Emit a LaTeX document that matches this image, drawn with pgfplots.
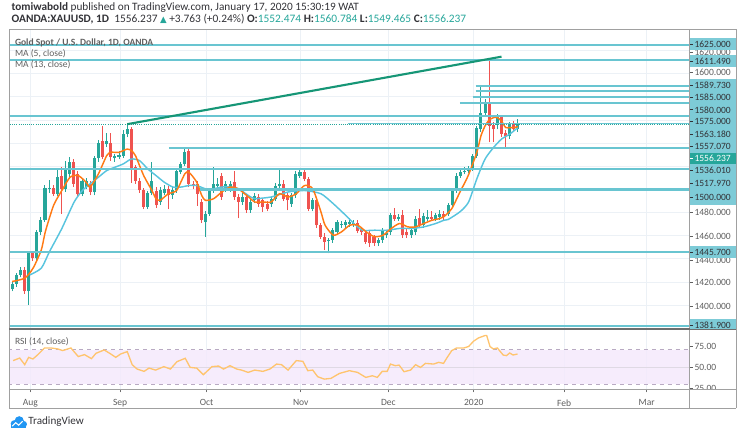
\documentclass[border=0pt]{standalone}
\usepackage{fontspec}
\setmainfont{Carlito}
\newfontfamily\dejavu{DejaVu Sans}
\usepackage{pgfplots}
\pgfplotsset{compat=1.18}
\usepackage{pgfplotstable}
\definecolor{up}{RGB}{38,166,154}
\definecolor{dn}{RGB}{239,83,80}
\definecolor{lvl}{RGB}{105,197,209}
\definecolor{lvlbox}{RGB}{125,203,215}
\definecolor{trend}{RGB}{22,150,118}
\definecolor{maf}{RGB}{255,122,20}
\definecolor{mas}{RGB}{88,196,222}
\definecolor{rsil}{RGB}{255,196,110}
\definecolor{rsif}{RGB}{244,233,252}
\definecolor{rsid}{RGB}{185,170,195}
\definecolor{gridc}{RGB}{236,241,246}
\definecolor{framec}{RGB}{160,160,160}
\definecolor{sepc}{RGB}{110,110,110}
\definecolor{txt}{RGB}{50,50,55}
\definecolor{ltxt}{RGB}{95,95,95}
\definecolor{tvblue}{RGB}{33,150,243}

\pgfplotstableread{
i O H L C
0 1414 1420 1412 1418.5
1 1418.5 1428 1416 1426.2
2 1426.2 1433 1424 1430.5
3 1430.5 1433 1410 1412.0
4 1412.0 1446 1400.5 1444.8
5 1444.8 1447 1438 1440.5
6 1440.5 1465 1439 1463.4
7 1463.4 1476 1461 1473.4
8 1473.4 1504 1472 1501.2
9 1500.0 1508 1497 1501.5
10 1501.2 1504 1494 1496.3
11 1496.3 1517 1494 1510.6
12 1511.5 1519 1479 1500.6
13 1500.6 1525 1498 1517.7
14 1513.5 1528 1511 1523.5
15 1523.5 1526 1502 1504.9
16 1513.5 1516 1494 1496.3
17 1496.3 1510 1494 1507.7
18 1502 1510 1500 1507.7
19 1504.9 1507 1495 1497.8
20 1497.8 1529 1495 1526.9
21 1526.9 1543 1524 1540
22 1542 1555 1526 1528
23 1539 1549 1537 1542
24 1540 1549 1525 1527.8
25 1527 1531 1524 1528.6
26 1528 1533 1526 1529.5
27 1529 1551 1527 1547.8
28 1547.8 1556.4 1545 1552.1
29 1552.1 1554 1506 1517.7
30 1519 1521 1505 1507.7
31 1507.7 1510 1497 1499.2
32 1499.2 1501 1483 1484.9
33 1484.9 1499 1483 1497.2
34 1497.2 1524 1495 1507
35 1499 1502 1484 1486.3
36 1489.2 1502 1487 1499.2
37 1497.2 1504 1495 1500.6
38 1500.6 1503 1483 1494.9
39 1494.9 1502 1492 1499.2
40 1499.2 1518 1497 1516.3
41 1515 1524 1513 1522
42 1522 1535.5 1520 1532
43 1533.5 1536 1502 1504.9
44 1504.9 1507 1500 1503.4
45 1504.9 1507 1486 1496.3
46 1489.2 1492 1471 1473.4
47 1472 1481 1459 1479.2
48 1479.2 1501 1477 1499.2
49 1499.2 1519 1497 1504.9
50 1503.4 1510 1501 1504.9
51 1512 1514 1491 1493.5
52 1500.6 1507 1498 1504.9
53 1500.6 1507 1498 1505
54 1506.3 1516 1491 1493.5
55 1493.5 1496 1475 1489.2
56 1489 1497 1487 1493.5
57 1493.5 1496 1480 1482
58 1482 1492 1480 1489.2
59 1490.6 1497 1488 1494.3
60 1493.5 1496 1485 1487.7
61 1490.6 1493 1480.6 1484.9
62 1487.7 1490 1481 1483.4
63 1487.7 1494 1485 1492
64 1492 1506 1490 1503.4
65 1503.4 1517.7 1501 1504.9
66 1504.9 1508 1490 1492
67 1494.9 1497 1482 1490.6
68 1487.7 1497 1485 1494.9
69 1494.9 1516 1493 1513.5
70 1512 1517 1510 1514.9
71 1514.9 1517 1507 1509.2
72 1509.2 1511 1481 1483.4
73 1483.4 1493 1481 1490.6
74 1490.6 1493 1467 1469.1
75 1469.1 1471 1457 1459.2
76 1459.2 1462 1447.7 1454.9
77 1455.4 1458 1444.8 1456.3
78 1456.3 1467 1454 1464.8
79 1463.4 1474 1461 1472
80 1469.1 1473 1467 1470.6
81 1469.1 1474 1467 1472
82 1470.6 1475.5 1468 1472
83 1469.7 1474 1468 1471.4
84 1471.4 1474 1462 1464.3
85 1464.8 1467 1461 1463.4
86 1462 1464 1453 1454.9
87 1462 1464 1450.6 1453.4
88 1459.2 1461 1451 1453.4
89 1453.4 1458 1451 1456.3
90 1456.3 1467 1454 1464.8
91 1460.5 1464 1458 1462
92 1463.4 1480 1461 1477.7
93 1477.7 1484 1473 1474.9
94 1474.9 1479 1473 1476.3
95 1477.7 1482 1458 1460.5
96 1463.4 1466 1458 1460.5
97 1460.5 1467 1458 1464.8
98 1463.4 1477 1461 1474.9
99 1475.5 1483 1467 1469.7
100 1469.1 1480 1467 1477.2
101 1474.9 1482 1473 1476.3
102 1476.3 1481 1473 1474.9
103 1474.9 1480 1473 1477.7
104 1476.3 1482 1474 1479.2
105 1479.2 1481 1474 1476.3
106 1479.2 1488 1477 1486.3
107 1486.3 1501 1484 1499.2
108 1499.2 1514 1497 1512
109 1512 1517 1510 1514.9
110 1514.9 1519 1513 1516.3
111 1516.3 1520 1514 1517.7
112 1517.7 1531 1516 1529.2
113 1529.2 1555 1527 1552.7
114 1552.1 1589.7 1550 1566.4
115 1566.4 1578 1564 1575
116 1575 1611.5 1540.7 1554.9
117 1555.5 1558 1540.7 1552.1
118 1555.5 1565 1552 1562.9
119 1562.9 1564 1545 1547.8
120 1548.6 1551 1536.4 1546.3
121 1546.3 1558 1544 1556.4
122 1556.4 1559 1550 1552.5
123 1552.474 1560.784 1549.465 1556.237
}\candles

\newcommand{\pfont}{\fontsize{7.2}{8}\selectfont}
\newcommand{\plab}[3]{\draw[#3, line width=0.5pt] (689.5,#1) -- (692.5,#1); \node[anchor=west, inner sep=0pt, font=\pfont, text=#3] at (694,#1) {#2};}

\begin{document}
\begin{tikzpicture}
\begin{scope}[x=0.75pt,y=-0.75pt]
\path[use as bounding box] (0,0) rectangle (740,437);
\end{scope}

% ---------------- main price panel ----------------
\begin{axis}[at={(3.225pt,-248.25pt)}, anchor=south west, scale only axis,
  width=513.5pt, height=225.75pt,
  xmin=-0.725, xmax=164.66, ymin=1379.6, ymax=1637.9,
  axis line style={draw=none},
  xtick={4.44,26.26,47.3,70.2,91.5,112.25,134.2,154.3}, xticklabels={},
  ytick={1400,1420,...,1620}, yticklabels={},
  major tick length=0pt, grid=major, major grid style={gridc, line width=0.7pt}]
% wicks
\addplot[draw=none, mark=none, forget plot,
  restrict expr to domain={\thisrow{C}-\thisrow{O}}{0:1000},
  error bars/.cd, y dir=plus, y explicit, error mark=none,
  error bar style={draw=up, line width=0.75pt}]
  table[x=i, y=L, y error expr=\thisrow{H}-\thisrow{L}] {\candles};
\addplot[draw=none, mark=none, forget plot,
  restrict expr to domain={\thisrow{O}-\thisrow{C}}{0.001:1000},
  error bars/.cd, y dir=plus, y explicit, error mark=none,
  error bar style={draw=dn, line width=0.75pt}]
  table[x=i, y=L, y error expr=\thisrow{H}-\thisrow{L}] {\candles};
% bodies
\addplot[draw=none, mark=none, forget plot,
  restrict expr to domain={\thisrow{C}-\thisrow{O}}{0:1000},
  error bars/.cd, y dir=plus, y explicit, error mark=none,
  error bar style={draw=up, line width=2.3pt}]
  table[x=i, y=O, y error expr={max(\thisrow{C}-\thisrow{O},0.9)}] {\candles};
\addplot[draw=none, mark=none, forget plot,
  restrict expr to domain={\thisrow{O}-\thisrow{C}}{0.001:1000},
  error bars/.cd, y dir=plus, y explicit, error mark=none,
  error bar style={draw=dn, line width=2.3pt}]
  table[x=i, y=C, y error expr={max(\thisrow{O}-\thisrow{C},0.9)}] {\candles};
% MA 13
\addplot[mas, line width=1.1pt, smooth, tension=0.4] coordinates {
(4.3,1426.2)(7.1,1432)(9.1,1446.3)(12.1,1466.3)(15.1,1489.2)(17.1,1499.1)(19,1504.9)(21,1510.6)(23,1516.3)(25,1519.2)(27,1522)(29,1526.3)(31,1524.9)(33,1517.7)(35,1512)(37,1506.3)(39.1,1502.1)(41.1,1502.1)(43,1503.4)(44.9,1503.4)(47,1500.6)(49,1500.6)(51,1502.1)(53,1502.1)(55,1500.6)(58,1493.5)(59,1492)(63,1493.5)(67.1,1497.8)(71.1,1499.1)(75.1,1496.3)(78.1,1487.7)(81.1,1477.7)(83.1,1470.6)(85.2,1464.8)(88.1,1464.8)(91.2,1464.8)(94.2,1466.3)(97.2,1466.3)(100.1,1467.7)(103,1470.6)(105,1473.4)(106,1474)(109,1481)(111,1489.2)(113,1509.2)(115,1526.3)(117.1,1536.4)(119,1543.5)(121,1547.8)(123,1553.5)};
% MA 5
\addplot[maf, line width=1.1pt, smooth, tension=0.4] coordinates {
(0,1420.5)(3.1,1423.4)(5.1,1432)(7.1,1447.7)(8.1,1463.7)(10.1,1486.3)(12.1,1499.1)(14.1,1510.6)(16.1,1512)(18,1506.3)(19,1502.1)(21,1513.5)(23,1529.2)(24,1532.1)(26,1532.1)(28,1534.9)(29,1533.5)(30,1529.2)(32,1512)(34,1499.1)(35,1492)(36,1490.6)(38,1496.3)(40,1499.1)(42,1513.5)(43,1514.9)(44.9,1506.3)(46.1,1494.9)(47,1490.6)(49,1492)(51,1497.8)(53,1502.1)(55,1500.6)(57,1494.9)(58,1492)(59,1489.2)(61,1489.2)(63,1489.2)(65,1496.3)(67.1,1493.5)(69.1,1496.3)(71.1,1503.4)(73.1,1500.6)(75.1,1480.6)(76.1,1469.1)(78.1,1460.5)(80.1,1463.4)(82.1,1469.1)(84.1,1469.1)(86.1,1463.4)(88.1,1459.2)(90.2,1460.5)(92.2,1466.3)(94.2,1470.6)(96.2,1467.7)(98.1,1467.7)(100.1,1470.6)(102.1,1473.4)(104,1474.9)(105,1476.5)(106.9,1483.4)(108.9,1497.8)(110.9,1512)(113,1532.1)(114,1546.3)(115,1554.9)(116,1560)(117.1,1562.1)(118,1562.1)(119,1559.2)(120,1553.5)(121,1553.5)(122.1,1553.5)(123,1554.4)};
% horizontal levels
\addplot[lvl, line width=1.6pt] coordinates {(-1,1625) (170,1625)};
\addplot[lvl, line width=1.6pt] coordinates {(-1,1611.49) (170,1611.49)};
\addplot[lvl, line width=1.6pt] coordinates {(112.7,1589.73) (170,1589.73)};
\addplot[lvl, line width=1.6pt] coordinates {(112.7,1585) (170,1585)};
\addplot[lvl, line width=1.6pt] coordinates {(112,1580) (170,1580)};
\addplot[lvl, line width=1.6pt] coordinates {(108.9,1575) (170,1575)};
\addplot[lvl, line width=1.6pt] coordinates {(-1,1563.18) (170,1563.18)};
\addplot[lvl, line width=1.2pt] coordinates {(81.6,1557.07) (170,1557.07)};
\addplot[lvl, line width=1.6pt] coordinates {(38.1,1536.01) (170,1536.01)};
\addplot[lvl, line width=1.6pt] coordinates {(-1,1517.97) (170,1517.97)};
\addplot[lvl, line width=1.6pt] coordinates {(45.8,1500) (170,1500)};
\addplot[lvl, line width=1.6pt] coordinates {(-1,1445.7) (170,1445.7)};
\addplot[lvl, line width=1.6pt] coordinates {(-1,1381.9) (170,1381.9)};
\addplot[up, densely dotted, line width=0.6pt] coordinates {(-1,1556.237) (170,1556.237)};
% trend line
\addplot[trend, line width=1.6pt] coordinates {(28,1556.4) (119,1614.7)};
\end{axis}

% ---------------- RSI panel ----------------
\begin{axis}[at={(3.225pt,-293.775pt)}, anchor=south west, scale only axis,
  width=513.5pt, height=45.3pt,
  xmin=-0.725, xmax=164.66, ymin=24.3, ymax=94.1,
  axis line style={draw=none},
  xtick={4.44,26.26,47.3,70.2,91.5,112.25,134.2,154.3},
  xticklabels={Aug,Sep,Oct,Nov,Dec,2020,Feb,Mar},
  xtick pos=lower, tick align=outside, major tick length=2.5pt,
  xtick style={draw=sepc, line width=0.5pt},
  xticklabel style={font=\fontsize{7.2}{8}\selectfont, text=ltxt, yshift=-1.8pt},
  ytick=\empty, xmajorgrids, major grid style={gridc, line width=0.7pt}]
\addplot[draw=none, fill=rsif, fill opacity=0.85, forget plot] coordinates {(-1,30) (170,30) (170,70) (-1,70)};
\addplot[rsid!45, line width=0.5pt] coordinates {(-1,50) (170,50)};
\addplot[rsid, dashed, line width=0.6pt] coordinates {(-1,70) (170,70)};
\addplot[rsid, dashed, line width=0.6pt] coordinates {(-1,30) (170,30)};
\addplot[rsil, line width=1pt] coordinates {
(0.24,57.5)(1.86,60.5)(3.07,52.8)(4.03,61.3)(5.07,59.4)(6.28,64.5)(7.9,72.2)(9.5,72.2)(11.1,71.1)(12.3,69.2)(14.3,72.2)(16.1,62.2)(17.6,64.5)(19.3,59.8)(20.4,66.0)(22.4,69.9)(24.0,65.2)(25.2,61.3)(26.4,65.2)(28.0,68.0)(29.2,52.8)(30.4,47.7)(32.1,45.0)(33.3,48.8)(34.9,46.5)(36.9,50.5)(38.5,47.7)(40.1,56.3)(42.1,60.2)(43.3,49.6)(44.9,48.8)(46.5,41.1)(48.6,50.5)(50.2,51.2)(51.4,47.7)(53.0,51.6)(54.6,47.7)(55.8,46.5)(57.4,43.8)(59.0,46.5)(61.0,45.0)(62.7,47.7)(64.3,53.5)(65.5,52.8)(67.1,46.5)(69.1,57.5)(70.7,56.7)(71.9,45.8)(73.1,46.5)(74.3,38.8)(75.9,36.0)(77.5,36.8)(79.6,42.6)(82.0,45.8)(84.0,43.8)(86.0,38.0)(87.6,39.9)(88.8,38.0)(90.0,45.0)(91.2,45.0)(92.0,53.5)(93.2,51.6)(94.1,52.3)(95.3,44.6)(96.9,46.5)(98.1,52.8)(99.3,49.6)(100.5,54.3)(102.5,53.5)(103.7,55.5)(104.9,54.3)(105.7,60.5)(106.9,69.2)(108.1,72.2)(109.8,72.2)(111.0,73.9)(112.2,80.1)(113.4,83.9)(115.0,86.7)(115.4,86.7)(116.2,73.9)(117.0,71.1)(118.0,72.2)(119.4,64.0)(120.2,63.3)(121.0,66.4)(121.8,64.0)(122.9,65.2)};
\end{axis}

\begin{scope}[x=0.75pt,y=-0.75pt]
% frame
\draw[framec, line width=0.7pt] (4.3,29.5) -- (736,29.5);
\draw[framec, line width=0.7pt] (4.3,29.5) -- (4.3,411);
\draw[framec, line width=0.7pt] (736,29.5) -- (736,411);
\draw[framec, line width=0.7pt] (4.3,411) -- (736,411);
\draw[framec, line width=0.9pt] (689.3,29.5) -- (689.3,411);
\draw[sepc, line width=1.2pt] (4.3,331.3) -- (736,331.3);
\draw[framec, line width=0.8pt] (4.3,391.7) -- (736,391.7);

% header
\node[anchor=base west, inner sep=0pt, font=\fontsize{8.5}{10}\selectfont, text=txt] at (6.5,10.5)
  {\textbf{tomiwabold} published on TradingView.com, January 17, 2020 15:30:19 WAT};
\node[anchor=base west, inner sep=0pt, font=\fontsize{8.6}{10}\selectfont, text=txt] at (6.5,22.5)
  {\textbf{OANDA:XAUUSD, 1D}\ \ 1556.237 {\color{up}\dejavu\fontsize{6.5}{8}\selectfont ▲} +3.763 (+0.24\%) \textbf{O:}{\color{up}1552.474} \textbf{H:}{\color{up}1560.784} \textbf{L:}{\color{up}1549.465} \textbf{C:}{\color{up}1556.237}};

% legend inside chart
\node[anchor=base west, inner sep=0pt, font=\fontsize{7.2}{9}\selectfont, text=ltxt] at (10,45.3) {\textbf{Gold Spot / U.S. Dollar, 1D, OANDA}};
\node[anchor=base west, inner sep=0pt, font=\fontsize{7.2}{9}\selectfont, text=ltxt] at (10,56.4) {MA (5, close)};
\node[anchor=base west, inner sep=0pt, font=\fontsize{7.2}{9}\selectfont, text=ltxt] at (10,67.6) {MA (13, close)};
\node[anchor=base west, inner sep=0pt, font=\fontsize{7.2}{9}\selectfont, text=ltxt] at (10,347) {RSI (14, close)};

% price scale
\plab{52.3}{1620.000}{ltxt}
\plab{262}{1440.000}{ltxt}
\fill[lvlbox] (690,38.5) rectangle (735.5,50.5);
\fill[lvlbox] (690,55.5) rectangle (735.5,67);
\fill[lvlbox] (690,79.5) rectangle (735.5,206);
\fill[up] (690,153.5) rectangle (735.5,165.5);
\fill[lvlbox] (690,248) rectangle (735.5,259.5);
\fill[lvlbox] (690,321.5) rectangle (735.5,331);
\plab{44.5}{1625.000}{txt}
\plab{61.3}{1611.490}{txt}
\plab{73}{1600.000}{ltxt}
\plab{86}{1589.730}{txt}
\plab{98}{1585.000}{txt}
\plab{110.5}{1580.000}{txt}
\plab{122.5}{1575.000}{txt}
\plab{135}{1563.180}{txt}
\plab{147.5}{1557.070}{txt}
\plab{159.5}{1556.237}{white}
\plab{171.5}{1536.010}{txt}
\plab{185}{1517.970}{txt}
\plab{199}{1500.000}{txt}
\plab{214}{1480.000}{ltxt}
\plab{238}{1460.000}{ltxt}
\plab{254}{1445.700}{txt}
\plab{284}{1420.000}{ltxt}
\plab{308}{1400.000}{ltxt}
\plab{327}{1381.900}{txt}
\plab{348.3}{75.00}{ltxt}
\plab{369.7}{50.00}{ltxt}
\begin{scope}
\clip (689.5,380) rectangle (735.5,391.3);
\plab{390.5}{25.00}{ltxt}
\end{scope}

% TradingView logo
\fill[tvblue] (9.5,426.5) circle (3.6);
\fill[tvblue] (14.5,423.5) circle (4.6);
\fill[tvblue] (19,427) circle (3.3);
\fill[tvblue] (6,427) rectangle (21.5,430.3);
\draw[white, line width=0.8pt] (7.5,429) -- (11,425.5) -- (14,428) -- (18,424);
\node[anchor=west, inner sep=0pt, font=\fontsize{8.4}{10}\selectfont, text=txt] at (23.5,424.5) {TradingView};
\end{scope}
\end{tikzpicture}
\end{document}
